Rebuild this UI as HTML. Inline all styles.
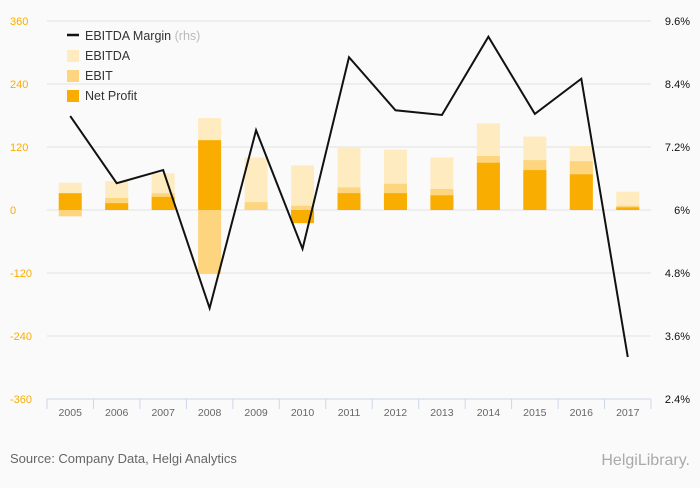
<!DOCTYPE html>
<html><head><meta charset="utf-8"><style>
body{margin:0;background:#fafafa;}
svg text{font-family:"Liberation Sans",sans-serif;}
</style></head><body>
<svg id="chart" width="700" height="483" xmlns="http://www.w3.org/2000/svg">
<rect width="700" height="483" fill="#fafafa"/>
<g id="grid"></g><g id="bars"></g><g id="line"></g><g id="axes"></g>
<g>
<line x1="67" y1="35" x2="79" y2="35" stroke="#111" stroke-width="2.5"/>
<text x="85" y="40" font-size="12.5" fill="#333">EBITDA Margin <tspan fill="#bbb">(rhs)</tspan></text>
<rect x="67" y="50" width="12" height="12" fill="#ffebc0"/>
<text x="85" y="60" font-size="12.5" fill="#333">EBITDA</text>
<rect x="67" y="70" width="12" height="12" fill="#fdd57e"/>
<text x="85" y="80" font-size="12.5" fill="#333">EBIT</text>
<rect x="67" y="90" width="12" height="12" fill="#f9ad00"/>
<text x="85" y="100" font-size="12.5" fill="#333">Net Profit</text>
</g>
<text x="10" y="463" font-size="13" fill="#666">Source: Company Data, Helgi Analytics</text>
<text x="690" y="465" font-size="16" fill="#aaa" text-anchor="end" font-family="Liberation Serif">HelgiLibrary.</text>
</svg>
<script>
const categories=["2005","2006","2007","2008","2009","2010","2011","2012","2013","2014","2015","2016","2017"];
const ebitda=[52,55,70,175,100,85,120,115,100,165,140,122,35];
const ebit=[-12,23,32,-122,15,8,43,50,40,103,95,93,8];
const netProfit=[32,13,25,133,0,-25,32,32,28,90,76,68,5];
const margin=[7.79,6.51,6.76,4.13,7.52,5.26,8.91,7.9,7.81,9.3,7.83,8.5,3.2];
const leftTicks=[360,240,120,0,-120,-240,-360];
const rightTicks=["9.6%","8.4%","7.2%","6%","4.8%","3.6%","2.4%"];
const NS="http://www.w3.org/2000/svg";
const X0=47,X1=651,Y0=21,Y1=399;
const cw=(X1-X0)/categories.length;
const yL=v=>Y0+(360-v)/720*(Y1-Y0);
const yR=p=>Y0+(9.6-p)/7.2*(Y1-Y0);
const xc=i=>X0+cw*(i+0.5);
function mk(tag,attrs,parent){const e=document.createElementNS(NS,tag);for(const k in attrs)e.setAttribute(k,attrs[k]);document.getElementById(parent).appendChild(e);return e;}
leftTicks.forEach((t,i)=>{
 const y=yL(t);
 const g=mk("line",{x1:X0,x2:X1,y1:y,y2:y,stroke:i==6?"#ccd6eb":"#e3e3e3","stroke-width":1},"grid");
 
 
 const l=mk("text",{x:10,y:y+4,"font-size":11,fill:"#f9ad00"},"axes");l.textContent=t;
 
 
 const r=mk("text",{x:690,y:y+4,"font-size":11,fill:"#111","text-anchor":"end"},"axes");r.textContent=rightTicks[i];
 
 
});
for(let i=0;i<=categories.length;i++){const x=X0+cw*i;mk("line",{x1:x,x2:x,y1:Y1,y2:Y1+10,stroke:"#ccd6eb"},"axes");}
const bw=23;
function bar(v,color,i,name){const y=yL(Math.max(v,0)),h=Math.abs(yL(v)-yL(0));
 const r=mk("rect",{x:xc(i)-bw/2,y:y,width:bw,height:h,fill:color},"bars");
 
 }
categories.forEach((c,i)=>{
 bar(ebitda[i],"#ffebc0",i,"ebitda-bar-"+c);
 bar(ebit[i],"#fdd57e",i,"ebit-bar-"+c);
 bar(netProfit[i],"#f9ad00",i,"net-profit-bar-"+c);
 const t=mk("text",{x:xc(i),y:416,"font-size":10.5,fill:"#666","text-anchor":"middle"},"axes");t.textContent=c;
 
 
});
const p=mk("polyline",{points:margin.map((m,i)=>xc(i)+","+yR(m)).join(" "),fill:"none",stroke:"#111","stroke-width":2},"line");


</script>
</body></html>
